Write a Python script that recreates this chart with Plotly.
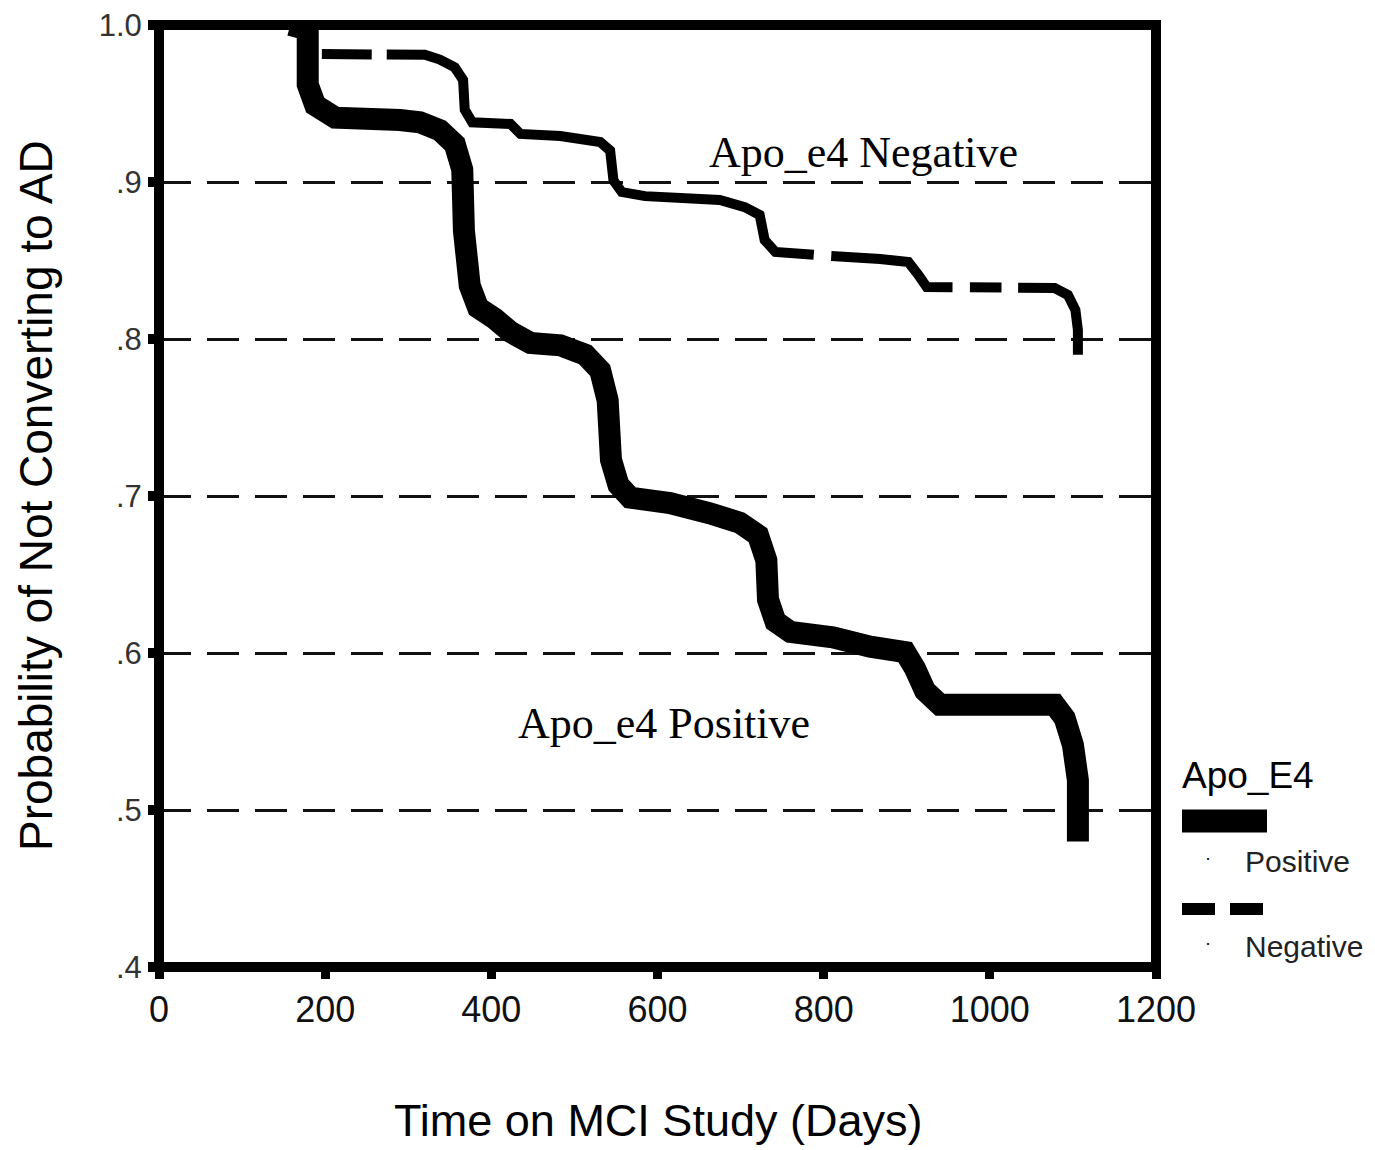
import math
import plotly.graph_objects as go

# ---------------- data ----------------
pos_days = [158, 179, 179, 188, 212, 290, 314, 338, 356, 365, 367, 374, 384, 404, 423, 447,
            483, 513, 531, 540, 544, 553, 567, 615, 663, 699, 721, 731, 733, 742, 760, 811,
            856, 898, 910, 922, 940, 1078, 1090, 1100, 1106, 1106]
pos_prob = [1.000, 0.997, 0.962, 0.949, 0.941, 0.9395, 0.938, 0.933, 0.924, 0.908, 0.869,
            0.834, 0.820, 0.813, 0.8045, 0.7975, 0.796, 0.790, 0.780, 0.761, 0.723, 0.707,
            0.699, 0.6955, 0.689, 0.683, 0.675, 0.659, 0.634, 0.620, 0.6134, 0.610, 0.604,
            0.6006, 0.590, 0.576, 0.567, 0.567, 0.5586, 0.5414, 0.519, 0.480]

neg_days = [196, 320, 338, 356, 366, 368, 377, 423, 435, 483, 531, 543, 547, 557, 585, 675,
            705, 723, 729, 742, 808, 868, 902, 914, 924, 1078, 1094, 1103, 1106, 1106]
neg_prob = [0.9815, 0.981, 0.978, 0.973, 0.965, 0.946, 0.938, 0.937, 0.9306, 0.9293, 0.9255,
            0.920, 0.901, 0.8936, 0.891, 0.8885, 0.884, 0.879, 0.863, 0.8554, 0.8529, 0.851,
            0.849, 0.8408, 0.8331, 0.8325, 0.828, 0.8185, 0.8057, 0.790]

# where the long dashes of the Negative curve break (in days, along flat parts)
neg_gaps = [(256, 274), (788, 809), (955, 976), (1014, 1034)]

x_ticks = [0, 200, 400, 600, 800, 1000, 1200]
y_ticks = [0.4, 0.5, 0.6, 0.7, 0.8, 0.9, 1.0]
y_ticktext = [".4", ".5", ".6", ".7", ".8", ".9", "1.0"]

x_title = "Time on MCI Study (Days)"
y_title = "Probability of Not Converting to AD"
legend_title = "Apo_E4"
series_names = ["Positive", "Negative"]
label_pos = "Apo_e4 Positive"
label_neg = "Apo_e4 Negative"

# ---------------- layout geometry ----------------
PAGE_OFF = 8  # default body margin of the html page
W, H = 1375 - PAGE_OFF, 1150 - PAGE_OFF
ML, MR, MT, MB = 159 - PAGE_OFF, 219, 25 - PAGE_OFF, 183
PLOT_W = W - ML - MR
PLOT_H = H - MT - MB
X_RANGE = [0, 1200]
Y_RANGE = [0.4, 1.0]
PX_X = PLOT_W / (X_RANGE[1] - X_RANGE[0])
PX_Y = PLOT_H / (Y_RANGE[1] - Y_RANGE[0])


def path_len_at(xs, ys, x_target):
    total = 0.0
    for i in range(1, len(xs)):
        dx = (xs[i] - xs[i - 1]) * PX_X
        dy = (ys[i] - ys[i - 1]) * PX_Y
        seg = math.hypot(dx, dy)
        if xs[i] > xs[i - 1] and xs[i - 1] <= x_target <= xs[i]:
            f = (x_target - xs[i - 1]) / (xs[i] - xs[i - 1])
            return total + f * seg
        total += seg
    return total


dash_parts = []
prev_end = 0.0
for g0, g1 in neg_gaps:
    a = path_len_at(neg_days, neg_prob, g0)
    b = path_len_at(neg_days, neg_prob, g1)
    dash_parts += [a - prev_end, b - a]
    prev_end = b
dash_parts += [4000, 1]
neg_dash = ",".join(f"{v:.1f}px" for v in dash_parts)

fig = go.Figure()
fig.add_trace(go.Scatter(x=pos_days, y=pos_prob, mode="lines", name=series_names[0],
                         line=dict(color="black", width=22, simplify=False),
                         showlegend=False))
fig.add_trace(go.Scatter(x=neg_days, y=neg_prob, mode="lines", name=series_names[1],
                         line=dict(color="black", width=10, dash=neg_dash, simplify=False),
                         showlegend=False))

SANS = "Liberation Sans, Arial, sans-serif"
SERIF = "Liberation Serif, Times New Roman, serif"

fig.update_layout(
    width=W, height=H,
    margin=dict(l=ML, r=MR, t=MT, b=MB, autoexpand=False),
    paper_bgcolor="white", plot_bgcolor="white",
    showlegend=False,
    xaxis=dict(range=X_RANGE, tickvals=x_ticks, ticks="outside", ticklen=11, tickwidth=9,
               tickcolor="black", showgrid=False, zeroline=False, showline=False,
               ticklabeloverflow="allow",
               tickfont=dict(family=SANS, size=36, color="#111")),
    yaxis=dict(range=Y_RANGE, tickvals=y_ticks, ticktext=y_ticktext, ticks="outside",
               ticklen=10, tickwidth=10, tickcolor="black", zeroline=False, showline=False,
               showgrid=True, gridcolor="#111", gridwidth=2.5, griddash="32px,16px",
               ticklabeloverflow="allow",
               tickfont=dict(family=SANS, size=31, color="#333")),
)

# frame
fig.add_shape(type="rect", xref="paper", yref="paper", x0=0, x1=1, y0=0, y1=1,
              line=dict(color="black", width=10), layer="above")


def px2paper_x(px):
    return (px - PAGE_OFF - ML) / PLOT_W


def px2paper_y(py):
    return (H - MB - (py - PAGE_OFF)) / PLOT_H


# axis titles
fig.add_annotation(text=x_title, xref="paper", yref="paper", x=0.5, y=px2paper_y(1120),
                   showarrow=False, xanchor="center", yanchor="middle",
                   font=dict(family=SANS, size=45, color="black"))
fig.add_annotation(text=y_title, xref="paper", yref="paper", x=px2paper_x(36), y=0.5,
                   textangle=-90, showarrow=False, xanchor="center", yanchor="middle",
                   font=dict(family=SANS, size=46, color="black"))

# curve labels
fig.add_annotation(text=label_pos, x=608, y=0.555, xref="x", yref="y", showarrow=False,
                   font=dict(family=SERIF, size=44, color="black"))
fig.add_annotation(text=label_neg, x=848, y=0.919, xref="x", yref="y", showarrow=False,
                   font=dict(family=SERIF, size=44, color="black"))

# legend (custom, symbol above label)
fig.add_annotation(text=legend_title, xref="paper", yref="paper", x=px2paper_x(1180),
                   y=px2paper_y(775), xanchor="left", yanchor="middle", showarrow=False,
                   font=dict(family=SANS, size=37, color="black"))
fig.add_shape(type="line", xref="paper", yref="paper", x0=px2paper_x(1182), x1=px2paper_x(1267),
              y0=px2paper_y(821), y1=px2paper_y(821), line=dict(color="black", width=23))
fig.add_shape(type="line", xref="paper", yref="paper", x0=px2paper_x(1182), x1=px2paper_x(1267),
              y0=px2paper_y(909), y1=px2paper_y(909),
              line=dict(color="black", width=12, dash="33px,15px"))
for name, py in zip(series_names, [861, 946]):
    fig.add_annotation(text="·", xref="paper", yref="paper", x=px2paper_x(1208),
                       y=px2paper_y(py - 3), xanchor="center", yanchor="middle", showarrow=False,
                       font=dict(family=SANS, size=18, color="black"))
    fig.add_annotation(text=name, xref="paper", yref="paper", x=px2paper_x(1243),
                       y=px2paper_y(py), xanchor="left", yanchor="middle", showarrow=False,
                       font=dict(family=SANS, size=30, color="#222"))

fig.write_html("out.html")
